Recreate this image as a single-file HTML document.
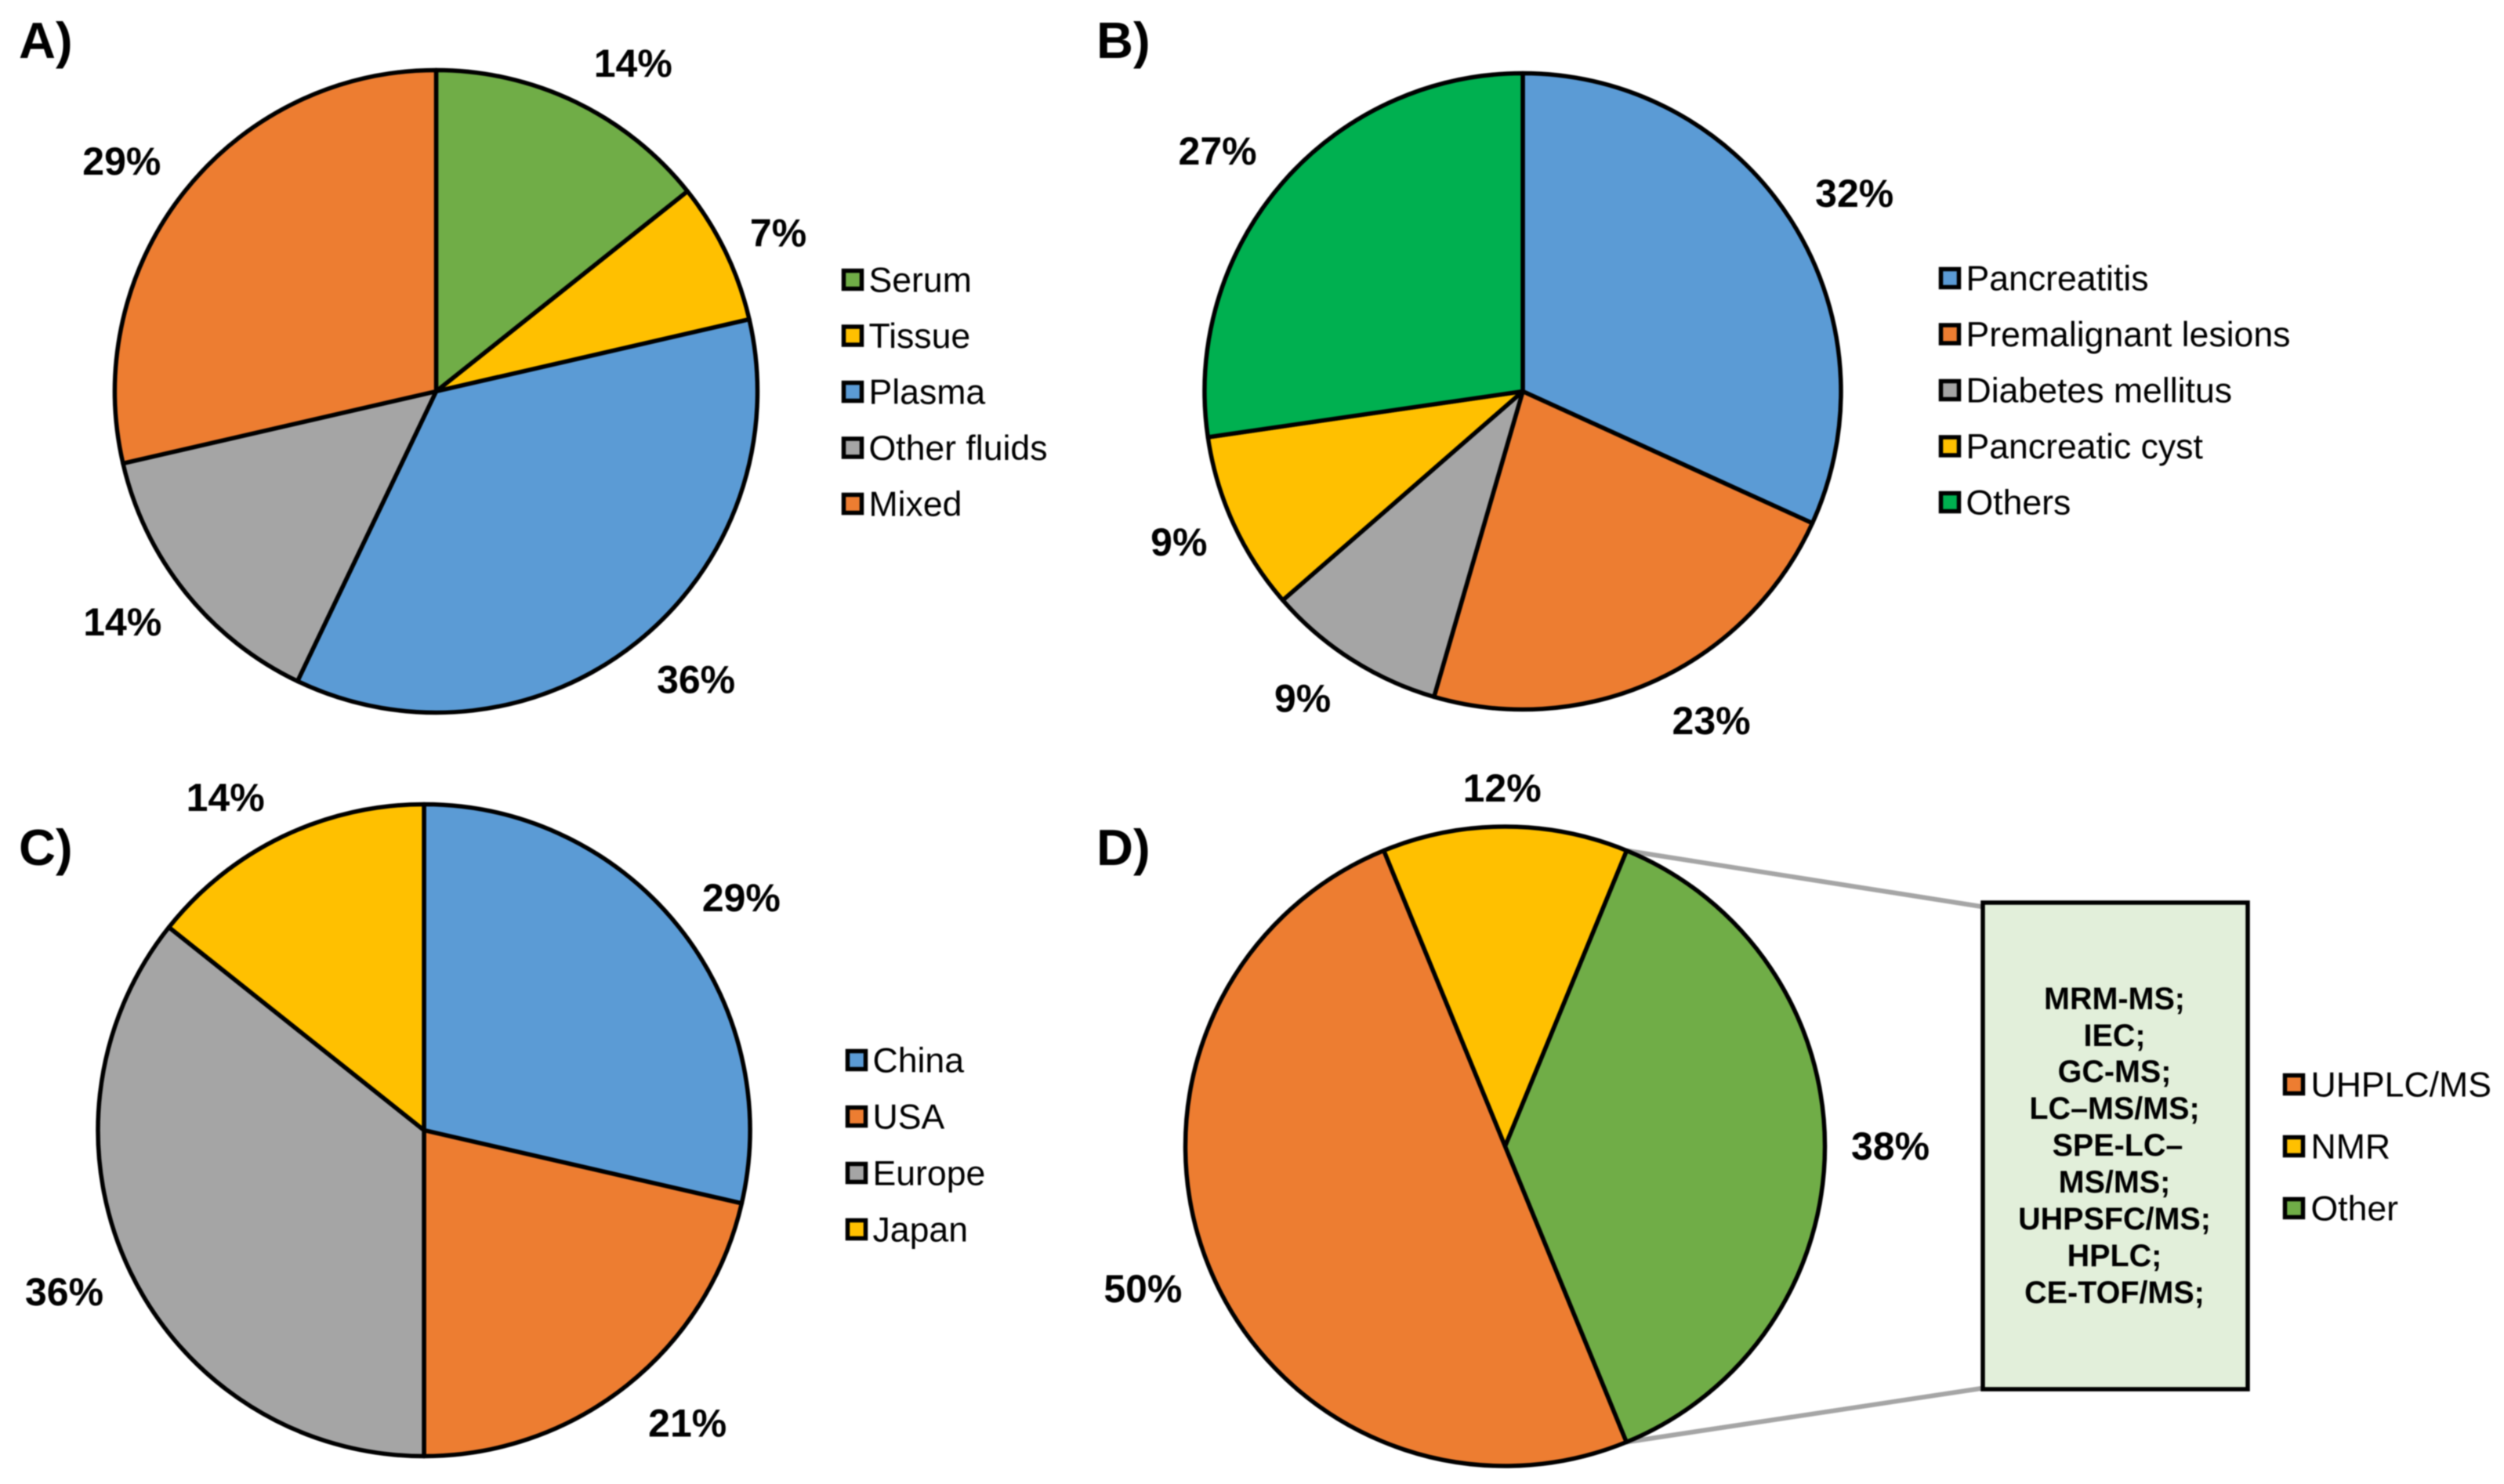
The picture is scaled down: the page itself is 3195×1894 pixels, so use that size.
<!DOCTYPE html>
<html lang="en">
<head>
<meta charset="utf-8">
<title>Pie chart panels A to D</title>
<style>
  html, body { margin: 0; padding: 0; background: #ffffff; }
  body { width: 3195px; height: 1894px; overflow: hidden; }
  svg { display: block; filter: blur(0.7px); }
  text { font-family: "Liberation Sans", Arial, sans-serif; fill: #000000; }
  .panel-title { font-size: 65px; font-weight: 700; }
  .pct { font-size: 50px; font-weight: 700; text-anchor: middle; }
  .legend-text { font-size: 44.6px; }
  .box-text { font-size: 39.5px; font-weight: 700; text-anchor: middle; }
</style>
</head>
<body>
<svg id="figure" xmlns="http://www.w3.org/2000/svg" width="3195" height="1894" viewBox="0 0 3195 1894">
  <rect x="0" y="0" width="3195" height="1894" fill="#ffffff"/>

  <text class="panel-title" x="24" y="74">A)</text>
  <text class="panel-title" x="1399" y="74">B)</text>
  <text class="panel-title" x="24" y="1104">C)</text>
  <text class="panel-title" x="1399" y="1104">D)</text>

  <g id="pie-a"></g>
  <g id="pie-b"></g>
  <g id="pie-c"></g>
  <g id="connectors"></g>
  <g id="pie-d"></g>

  <g>
    <rect x="2530" y="1152" width="338" height="621" fill="#e2efda" stroke="#000000" stroke-width="5.5"/>
    <text class="box-text" x="2698" y="1288">MRM-MS;</text>
    <text class="box-text" x="2698" y="1335">IEC;</text>
    <text class="box-text" x="2698" y="1381">GC-MS;</text>
    <text class="box-text" x="2698" y="1428">LC–MS/MS;</text>
    <text class="box-text" x="2702" y="1475">SPE-LC–</text>
    <text class="box-text" x="2698" y="1522">MS/MS;</text>
    <text class="box-text" x="2698" y="1569">UHPSFC/MS;</text>
    <text class="box-text" x="2698" y="1616">HPLC;</text>
    <text class="box-text" x="2698" y="1663">CE-TOF/MS;</text>
  </g>
</svg>

<script>
// ---- Chart data ----
var sampleCategories = ['Serum', 'Tissue', 'Plasma', 'Other fluids', 'Mixed'];
var sampleValues = [14.3, 7.1, 35.7, 14.3, 28.6];

var diseaseCategories = ['Pancreatitis', 'Premalignant lesions', 'Diabetes mellitus', 'Pancreatic cyst', 'Others'];
var diseaseValues = [31.8, 22.7, 9.1, 9.1, 27.3];

var regionCategories = ['China', 'USA', 'Europe', 'Japan'];
var regionValues = [28.6, 21.4, 35.7, 14.3];

var methodCategories = ['UHPLC/MS', 'NMR', 'Other'];
var methodValues = [50, 12.4, 37.6];

// ---- Styling and layout (kept apart from the data) ----
var GREEN = '#70ad47', YELLOW = '#ffc000', BLUE = '#5b9bd5', GRAY = '#a5a5a5', ORANGE = '#ed7d31', BRIGHT = '#00b050';
var SVG_NS = 'http://www.w3.org/2000/svg';

var panelA = {
  id: 'pie-a', key: 'a', categories: sampleCategories, values: sampleValues,
  colors: [GREEN, YELLOW, BLUE, GRAY, ORANGE],
  cx: 556.5, cy: 499.5, r: 410, start: 0,
  labelNudge: [[48, 4], [15, 2], [39, 4], [-35, 3], [-35, -1]],
  legendSwatchX: 1074, legendTextX: 1108.5, legendY: 357, legendStep: 71.5
};
var panelB = {
  id: 'pie-b', key: 'b', categories: diseaseCategories, values: diseaseValues,
  colors: [BLUE, ORANGE, GRAY, YELLOW, BRIGHT],
  cx: 1943, cy: 499.5, r: 406, start: 0,
  labelNudge: [[33, -0.5], [47, 0], [-31, 2], [-17, 0], [-38.5, -2]],
  legendSwatchX: 2474, legendTextX: 2508.5, legendY: 355, legendStep: 71.5
};
var panelC = {
  id: 'pie-c', key: 'c', categories: regionCategories, values: regionValues,
  colors: [BLUE, ORANGE, GRAY, YELLOW],
  cx: 541, cy: 1442.5, r: 416, start: 0,
  labelNudge: [[34, -0.5], [41, 4], [-32, 1.5], [-47.5, 3.5]],
  legendSwatchX: 1079, legendTextX: 1113.5, legendY: 1353, legendStep: 72
};
var panelD = {
  id: 'pie-d', key: 'd', categories: methodCategories, values: methodValues,
  colors: [ORANGE, YELLOW, GREEN],
  cx: 1920.5, cy: 1463, r: 408, start: 157.7,
  labelNudge: [[-31, 6], [-4, 10], [25.5, 0.6]],
  legendSwatchX: 2913, legendTextX: 2948.5, legendY: 1384, legendStep: 79
};

var LABEL_PAD = 58;
var LABEL_BASELINE_SHIFT = 16;
var SWATCH_INNER = 23;

// ---- Axis functions ----
function angleScale(values, start) {
  var total = values.reduce(function (a, b) { return a + b; }, 0);
  return function (cumulative) { return start + cumulative / total * 360; };
}
function polar(p, deg, radius) {
  var t = deg * Math.PI / 180;
  return { x: p.cx + radius * Math.sin(t), y: p.cy - radius * Math.cos(t) };
}
function arcPath(p, a0, a1) {
  var s = polar(p, a0, p.r), e = polar(p, a1, p.r);
  var large = (a1 - a0) > 180 ? 1 : 0;
  return 'M' + p.cx + ' ' + p.cy + ' L' + s.x + ' ' + s.y +
         ' A' + p.r + ' ' + p.r + ' 0 ' + large + ' 1 ' + e.x + ' ' + e.y + ' Z';
}

// ---- Drawing ----
function drawPie(p) {
  var group = document.getElementById(p.id);
  var toAngle = angleScale(p.values, p.start);
  var cumulative = 0;
  p.ends = [];
  p.values.forEach(function (value, i) {
    var a0 = toAngle(cumulative);
    var a1 = toAngle(cumulative + value);
    cumulative += value;
    p.ends.push([a0, a1]);
    var slug = p.categories[i].toLowerCase().replace(/[^a-z0-9]+/g, '-');

    var slice = document.createElementNS(SVG_NS, 'path');
    slice.setAttribute('d', arcPath(p, a0, a1));
    slice.setAttribute('fill', p.colors[i]);
    slice.setAttribute('stroke', '#000000');
    slice.setAttribute('stroke-width', '5.5');
    slice.setAttribute('stroke-linejoin', 'round');
    
    
    group.appendChild(slice);

    var mid = (a0 + a1) / 2;
    var pos = polar(p, mid, p.r + LABEL_PAD);
    var label = document.createElementNS(SVG_NS, 'text');
    label.setAttribute('class', 'pct');
    label.setAttribute('x', pos.x + p.labelNudge[i][0]);
    label.setAttribute('y', pos.y + p.labelNudge[i][1] + LABEL_BASELINE_SHIFT);
    label.textContent = Math.round(value) + '%';
    
    
    group.appendChild(label);

    var rowY = p.legendY + i * p.legendStep;
    var swatch = document.createElementNS(SVG_NS, 'rect');
    swatch.setAttribute('x', p.legendSwatchX + 2.5);
    swatch.setAttribute('y', rowY - SWATCH_INNER / 2);
    swatch.setAttribute('width', SWATCH_INNER);
    swatch.setAttribute('height', SWATCH_INNER);
    swatch.setAttribute('fill', p.colors[i]);
    swatch.setAttribute('stroke', '#000000');
    swatch.setAttribute('stroke-width', '5.5');
    
    
    group.appendChild(swatch);

    var entry = document.createElementNS(SVG_NS, 'text');
    entry.setAttribute('class', 'legend-text');
    entry.setAttribute('x', p.legendTextX);
    entry.setAttribute('y', rowY + 15.5);
    entry.textContent = p.categories[i];
    
    
    group.appendChild(entry);
  });
}

function drawConnectors(p) {
  var group = document.getElementById('connectors');
  var otherSlice = p.ends[2];
  var top = polar(p, otherSlice[0], p.r);
  var bottom = polar(p, otherSlice[1], p.r);

  var topLine = document.createElementNS(SVG_NS, 'line');
  topLine.setAttribute('x1', top.x);
  topLine.setAttribute('y1', top.y);
  topLine.setAttribute('x2', 2528);
  topLine.setAttribute('y2', 1157);
  topLine.setAttribute('stroke', GRAY);
  topLine.setAttribute('stroke-width', '6');
  
  
  group.appendChild(topLine);

  var bottomLine = document.createElementNS(SVG_NS, 'line');
  bottomLine.setAttribute('x1', bottom.x);
  bottomLine.setAttribute('y1', bottom.y);
  bottomLine.setAttribute('x2', 2528);
  bottomLine.setAttribute('y2', 1772);
  bottomLine.setAttribute('stroke', GRAY);
  bottomLine.setAttribute('stroke-width', '6');
  
  
  group.appendChild(bottomLine);
}

drawPie(panelA);
drawPie(panelB);
drawPie(panelC);
drawPie(panelD);
drawConnectors(panelD);
</script>
</body>
</html>
